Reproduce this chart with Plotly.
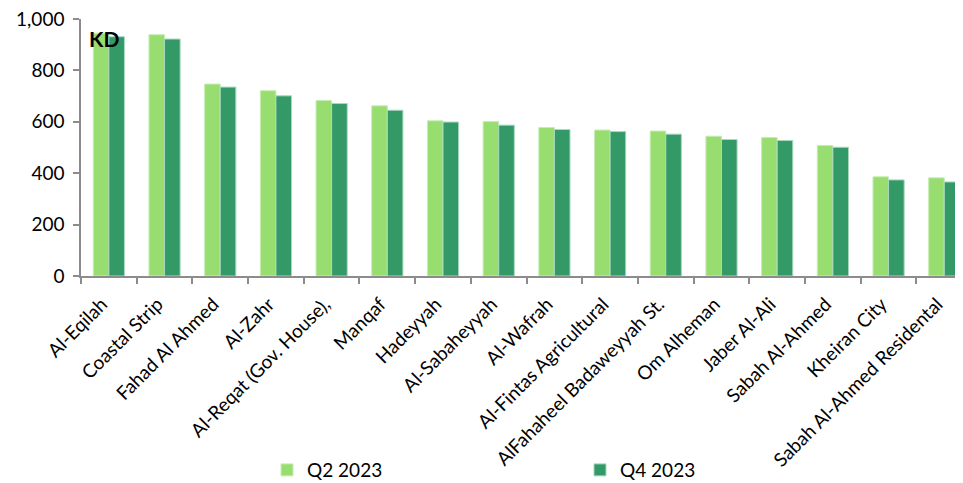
import plotly.graph_objects as go

categories = ["Al-Eqilah", "Coastal Strip", "Fahad Al Ahmed", "Al-Zahr",
              "Al-Reqat (Gov. House),", "Manqaf", "Hadeyyah", "Al-Sabaheyyah",
              "Al-Wafrah", "Al-Fintas Agricultural", "AlFahaheel Badaweyyah St.",
              "Om Alheman", "Jaber Al-Ali", "Sabah Al-Ahmed", "Kheiran City",
              "Sabah Al-Ahmed Residental"]
q2_2023 = [945, 939, 747, 721, 683, 662, 604, 601, 578, 568, 564, 544, 539, 508, 386, 382]
q4_2023 = [931, 922, 735, 701, 671, 645, 599, 587, 570, 562, 552, 531, 527, 501, 374, 366]
y_ticks = [0, 200, 400, 600, 800, 1000]

FONT = "Lato, 'Open Sans', sans-serif"

fig = go.Figure()
fig.add_trace(go.Bar(name="Q2 2023", x=categories, y=q2_2023,
                     marker=dict(color="#98DD70", line=dict(color="#C8EDB4", width=1))))
fig.add_trace(go.Bar(name="Q4 2023", x=categories, y=q4_2023,
                     marker=dict(color="#339966", line=dict(color="#A8D8BE", width=1))))

fig.update_layout(
    width=963, height=483,
    margin=dict(l=73, r=0, t=11, b=215, autoexpand=False),
    paper_bgcolor="white", plot_bgcolor="white",
    barmode="group", bargap=0.44, bargroupgap=0,
    font=dict(family=FONT, color="black"),
    showlegend=True,
    legend=dict(orientation="h", x=0.209, xanchor="left", y=-0.755, yanchor="middle",
                entrywidth=268, entrywidthmode="pixels",
                font=dict(size=19, family=FONT), itemwidth=30,
                bgcolor="rgba(0,0,0,0)"),
    xaxis=dict(range=[-0.5, 15.48], showline=True, linecolor="#8C8C8C", linewidth=1.5,
               ticks="outside", tickson="boundaries", ticklen=6, tickcolor="#8C8C8C",
               tickwidth=1.5, tickangle=-45, tickfont=dict(size=19, family=FONT),
               ticklabeloverflow="allow", ticklabelstandoff=8, ticklabelshift=-7,
               showgrid=False, zeroline=False, automargin=False),
    yaxis=dict(range=[0, 1000], tickvals=y_ticks, tickformat=",", showline=True,
               linecolor="#8C8C8C", linewidth=1.5, ticks="outside", ticklen=6,
               tickcolor="#8C8C8C", tickwidth=1.5, tickfont=dict(size=19, family=FONT),
               ticklabelstandoff=5, ticklabeloverflow="allow",
               showgrid=False, zeroline=False, automargin=False),
    annotations=[dict(text="<b>KD</b>", x=0.007, y=0.925, xref="paper", yref="paper",
                      xanchor="left", yanchor="middle", showarrow=False,
                      font=dict(size=21, family=FONT, color="black"))],
)

fig.write_html("out.html")
